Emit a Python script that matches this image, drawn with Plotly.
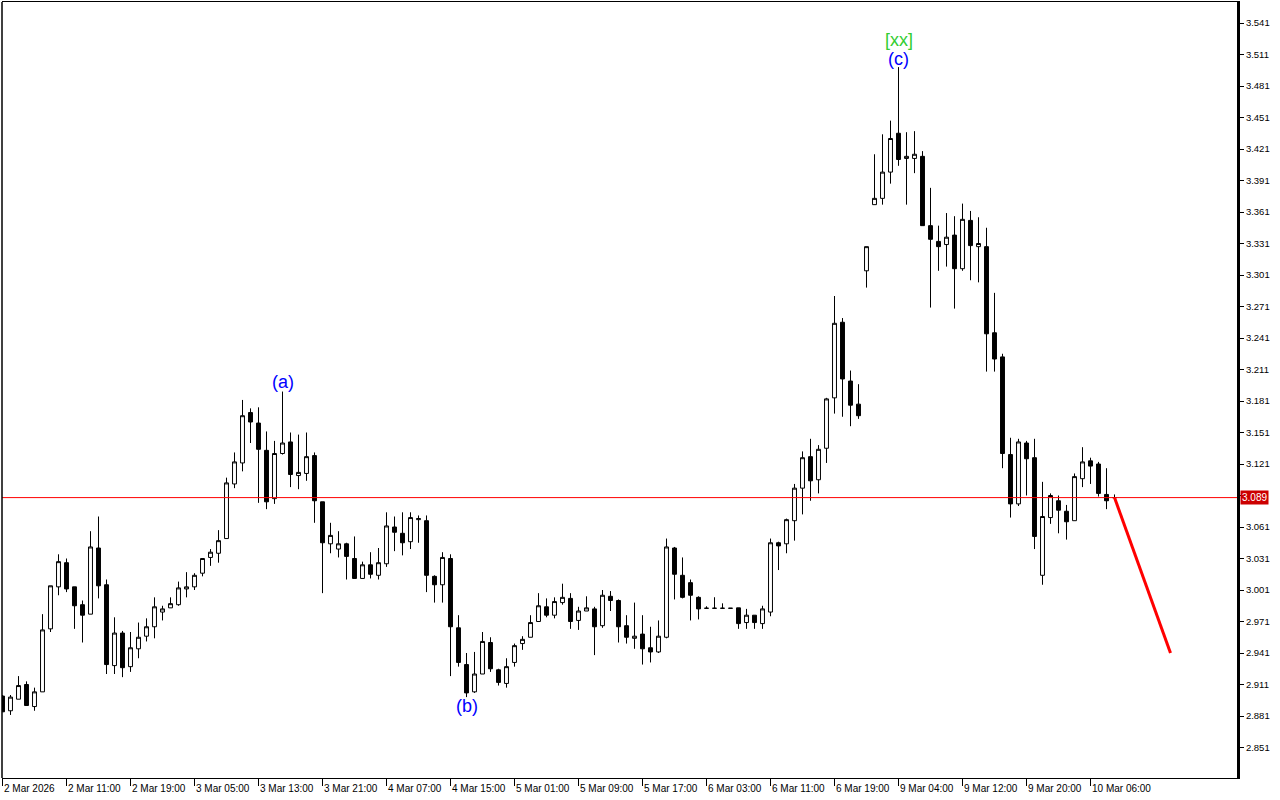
import plotly.graph_objects as go

# ---- data ----
bar_index = list(range(140))

open_ = [2.900, 2.886, 2.897, 2.911, 2.890, 2.904, 2.964, 3.004, 3.027, 3.004,
         2.987, 2.978, 3.041, 3.006, 2.929, 2.960, 2.928, 2.945, 2.957, 2.966,
         2.980, 2.984, 2.987, 3.002, 3.004, 3.017, 3.032, 3.036, 3.050, 3.102,
         3.122, 3.170, 3.160, 3.134, 3.088, 3.131, 3.142, 3.110, 3.112, 3.129,
         3.085, 3.045, 3.040, 3.045, 3.031, 3.012, 3.025, 3.015, 3.026, 3.061,
         3.055, 3.047, 3.068, 3.067, 3.014, 3.006, 3.031, 2.965, 2.930, 2.904,
         2.921, 2.951, 2.925, 2.912, 2.932, 2.950, 2.956, 2.971, 2.985, 2.977,
         2.989, 2.993, 2.972, 2.981, 2.983, 2.967, 2.995, 2.991, 2.967, 2.955,
         2.959, 2.946, 2.942, 2.956, 3.041, 3.015, 3.008, 2.994, 2.9836, 2.9836,
         2.9836, 2.9836, 2.984, 2.970, 2.977, 2.969, 2.980, 3.046, 3.045, 3.067,
         3.098, 3.128, 3.106, 3.136, 3.184, 3.256, 3.200, 3.178, 3.305, 3.368,
         3.374, 3.399, 3.436, 3.412, 3.412, 3.414, 3.348, 3.333, 3.330, 3.339,
         3.307, 3.353, 3.328, 3.328, 3.246, 3.223, 3.130, 3.083, 3.141, 3.127,
         3.015, 3.070, 3.086, 3.076, 3.067, 3.107, 3.124, 3.121, 3.092, 3.089]

high = [2.901, 2.901, 2.919, 2.914, 2.908, 2.978, 3.005, 3.035, 3.031, 3.004,
        2.991, 3.057, 3.071, 3.011, 2.975, 2.962, 2.961, 2.970, 2.974, 2.994,
        2.986, 2.994, 3.009, 3.018, 3.017, 3.031, 3.040, 3.058, 3.108, 3.132,
        3.182, 3.174, 3.175, 3.152, 3.143, 3.190, 3.151, 3.149, 3.151, 3.132,
        3.085, 3.065, 3.057, 3.046, 3.052, 3.028, 3.037, 3.041, 3.075, 3.071,
        3.075, 3.075, 3.072, 3.072, 3.015, 3.037, 3.035, 2.977, 2.941, 2.942,
        2.961, 2.956, 2.926, 2.936, 2.950, 2.957, 2.977, 2.998, 2.993, 2.994,
        3.007, 2.998, 2.985, 2.995, 2.985, 3.001, 3.000, 2.992, 2.977, 2.989,
        2.977, 2.966, 2.972, 3.050, 3.042, 3.032, 3.011, 2.995, 2.9855, 2.9941,
        2.9883, 2.9836, 2.984, 2.983, 2.977, 2.986, 3.050, 3.047, 3.069, 3.102,
        3.133, 3.145, 3.139, 3.184, 3.281, 3.260, 3.210, 3.197, 3.328, 3.416,
        3.435, 3.448, 3.499, 3.437, 3.438, 3.419, 3.384, 3.348, 3.360, 3.357,
        3.369, 3.362, 3.356, 3.346, 3.284, 3.226, 3.146, 3.145, 3.143, 3.145,
        3.104, 3.093, 3.091, 3.082, 3.112, 3.137, 3.127, 3.123, 3.117, 3.092]

low = [2.885, 2.882, 2.897, 2.891, 2.886, 2.904, 2.961, 2.996, 2.999, 2.964,
       2.951, 2.978, 2.993, 2.921, 2.921, 2.918, 2.923, 2.936, 2.952, 2.955,
       2.972, 2.984, 2.986, 2.994, 3.001, 3.014, 3.024, 3.027, 3.050, 3.098,
       3.114, 3.141, 3.084, 3.078, 3.083, 3.130, 3.099, 3.097, 3.105, 3.065,
       2.998, 3.036, 3.032, 3.011, 3.012, 3.012, 3.012, 3.011, 3.023, 3.038,
       3.034, 3.040, 3.046, 2.999, 2.989, 2.989, 2.919, 2.928, 2.899, 2.903,
       2.921, 2.923, 2.910, 2.908, 2.928, 2.944, 2.956, 2.971, 2.975, 2.974,
       2.987, 2.964, 2.963, 2.981, 2.939, 2.965, 2.981, 2.951, 2.950, 2.945,
       2.930, 2.932, 2.941, 2.955, 2.992, 2.993, 2.972, 2.973, 2.9836, 2.9836,
       2.9836, 2.9836, 2.964, 2.964, 2.964, 2.964, 2.976, 3.020, 3.036, 3.048,
       3.073, 3.086, 3.093, 3.122, 3.169, 3.166, 3.157, 3.164, 3.289, 3.368,
       3.368, 3.388, 3.405, 3.368, 3.398, 3.348, 3.270, 3.305, 3.309, 3.269,
       3.305, 3.296, 3.294, 3.209, 3.209, 3.117, 3.070, 3.081, 3.091, 3.040,
       3.006, 3.064, 3.055, 3.049, 3.067, 3.099, 3.102, 3.090, 3.078, 3.089]

close = [2.885, 2.899, 2.910, 2.891, 2.904, 2.963, 3.005, 3.028, 3.002, 2.986,
         2.977, 3.042, 3.005, 2.930, 2.960, 2.927, 2.946, 2.956, 2.966, 2.985,
         2.983, 2.988, 3.003, 3.004, 3.015, 3.031, 3.037, 3.048, 3.103, 3.123,
         3.167, 3.161, 3.135, 3.085, 3.131, 3.141, 3.111, 3.113, 3.128, 3.086,
         3.046, 3.053, 3.045, 3.033, 3.012, 3.025, 3.016, 3.027, 3.062, 3.056,
         3.046, 3.070, 3.069, 3.015, 3.006, 3.032, 2.966, 2.932, 2.903, 2.921,
         2.952, 2.926, 2.913, 2.928, 2.948, 2.954, 2.970, 2.986, 2.977, 2.990,
         2.994, 2.971, 2.981, 2.984, 2.966, 2.996, 2.991, 2.966, 2.956, 2.957,
         2.945, 2.942, 2.957, 3.042, 3.016, 2.994, 2.996, 2.983, 2.9836, 2.9836,
         2.9836, 2.9836, 2.969, 2.977, 2.970, 2.983, 3.046, 3.043, 3.068, 3.098,
         3.127, 3.105, 3.135, 3.183, 3.255, 3.202, 3.177, 3.167, 3.328, 3.374,
         3.399, 3.431, 3.411, 3.414, 3.416, 3.348, 3.335, 3.328, 3.337, 3.307,
         3.354, 3.329, 3.331, 3.245, 3.221, 3.131, 3.083, 3.142, 3.126, 3.052,
         3.071, 3.091, 3.077, 3.066, 3.109, 3.123, 3.119, 3.093, 3.086, 3.089]

time_tick_bars = [0, 8, 16, 24, 32, 40, 48, 56, 64, 72, 80, 88, 96, 104, 112, 120, 128, 136]
time_tick_labels = ["2 Mar 2026", "2 Mar 11:00", "2 Mar 19:00", "3 Mar 05:00", "3 Mar 13:00",
                    "3 Mar 21:00", "4 Mar 07:00", "4 Mar 15:00", "5 Mar 01:00", "5 Mar 09:00",
                    "5 Mar 17:00", "6 Mar 03:00", "6 Mar 11:00", "6 Mar 19:00", "9 Mar 04:00",
                    "9 Mar 12:00", "9 Mar 20:00", "10 Mar 06:00"]

price_ticks = [2.851, 2.881, 2.911, 2.941, 2.971, 3.001, 3.031, 3.061, 3.091, 3.121,
               3.151, 3.181, 3.211, 3.241, 3.271, 3.301, 3.331, 3.361, 3.391, 3.421,
               3.451, 3.481, 3.511, 3.541]
price_tick_labels = ["2.851", "2.881", "2.911", "2.941", "2.971", "3.001", "3.031", "3.061",
                     "", "3.121", "3.151", "3.181", "3.211", "3.241", "3.271", "3.301",
                     "3.331", "3.361", "3.391", "3.421", "3.451", "3.481", "3.511", "3.541"]

current_price = 3.089

wave_labels = ["(a)", "(b)", "(c)", "[xx]"]
wave_bars = [35, 58, 112, 112]
wave_prices = [3.1991, 2.8905, 3.5067, 3.5248]
wave_colors = ["#0000FF", "#0000FF", "#0000FF", "#32CD32"]

forecast_bars = [139, 146]
forecast_prices = [3.089, 2.941]

# ---- figure ----
fig = go.Figure()

fig.add_trace(go.Candlestick(
    x=bar_index, open=open_, high=high, low=low, close=close,
    increasing=dict(line=dict(color="black", width=1), fillcolor="white"),
    decreasing=dict(line=dict(color="black", width=1), fillcolor="black"),
    whiskerwidth=0, showlegend=False, hoverinfo="skip",
))

fig.add_trace(go.Scatter(
    x=forecast_bars, y=forecast_prices, mode="lines",
    line=dict(color="#FF0000", width=3), showlegend=False, hoverinfo="skip",
))

fig.add_hline(y=current_price, line=dict(color="#FF0000", width=1))

for txt, b, p, c in zip(wave_labels, wave_bars, wave_prices, wave_colors):
    fig.add_annotation(x=b, y=p, text=txt, showarrow=False, xanchor="center", yanchor="middle",
                       font=dict(family="Liberation Sans, Arial", size=18, color=c))

for b, t in zip(time_tick_bars, time_tick_labels):
    fig.add_annotation(x=b, y=0, xref="x", yref="paper", text=t, showarrow=False,
                       xanchor="left", yanchor="top", xshift=-1, yshift=-3,
                       font=dict(family="Liberation Sans, Arial", size=10, color="black"))

fig.add_annotation(x=1, y=current_price, xref="paper", yref="y", text=f"{current_price:.3f}",
                   showarrow=False, xanchor="left", yanchor="middle", xshift=3,
                   bgcolor="#CC0000", borderpad=1,
                   font=dict(family="Liberation Sans, Arial", size=10, color="white"))

fig.update_layout(
    width=1280, height=800,
    margin=dict(l=2, r=43, t=2, b=22),
    paper_bgcolor="white", plot_bgcolor="white",
    showlegend=False,
    xaxis=dict(range=[-0.0625, 154.3125], showgrid=False, zeroline=False,
               rangeslider=dict(visible=False),
               tickmode="array", tickvals=time_tick_bars, ticktext=[""] * len(time_tick_bars),
               ticks="outside", ticklen=7, tickcolor="black", tickwidth=1,
               showline=True, linecolor="black", linewidth=1, mirror=True),
    yaxis=dict(range=[2.82195, 3.561], side="right", showgrid=False, zeroline=False,
               tickmode="array", tickvals=price_ticks, ticktext=price_tick_labels,
               ticks="outside", ticklen=4, tickcolor="black", tickwidth=1,
               tickfont=dict(family="Liberation Sans, Arial", size=9.5, color="black"),
               showline=True, linecolor="black", linewidth=3),
)

fig.add_shape(type="line", xref="paper", yref="paper", x0=0, x1=0, y0=0, y1=1,
              line=dict(color="black", width=1.5))

fig.write_html("out.html", config={"displayModeBar": False},
               post_script="document.body.style.margin='0';document.body.style.overflow='hidden';")
